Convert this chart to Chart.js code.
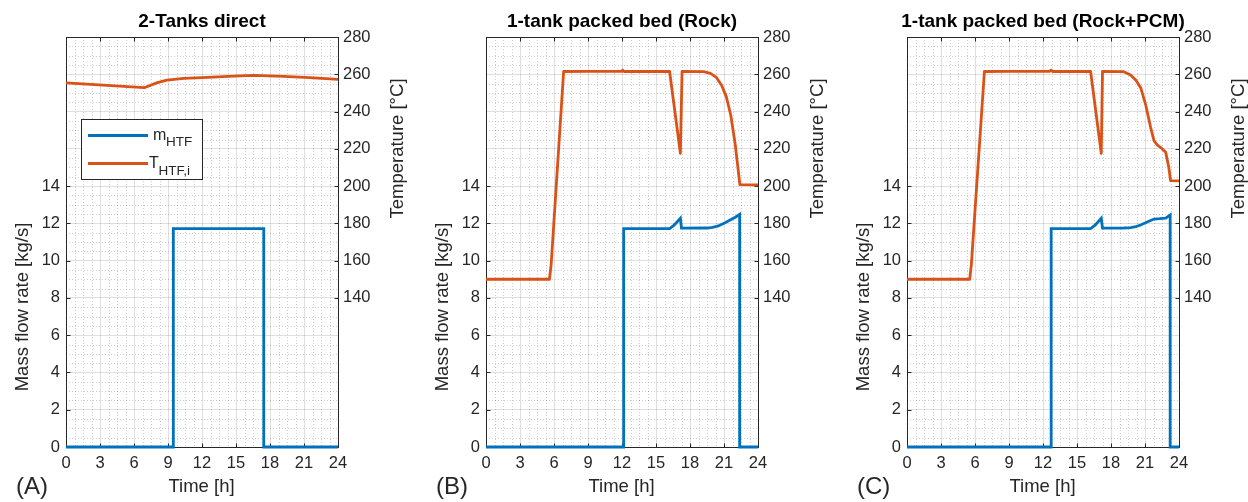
<!DOCTYPE html>
<html>
<head>
<meta charset="utf-8">
<script src="https://cdn.jsdelivr.net/npm/chart.js@4.4.1/dist/chart.umd.min.js"></script>
<style>
  html, body { margin: 0; padding: 0; background: #fff; width: 1248px; height: 502px; overflow: hidden; }
  .panel { position: absolute; top: 0; width: 407px; height: 502px; }
</style>
</head>
<body>
<div class="panel" style="left:0px"><canvas id="chartA" width="407" height="502"></canvas></div>
<div class="panel" style="left:420px"><canvas id="chartB" width="407" height="502"></canvas></div>
<div class="panel" style="left:841px"><canvas id="chartC" width="407" height="502"></canvas></div>
<script>
// ---- Axis ticks ----
const timeTicks = [0, 3, 6, 9, 12, 15, 18, 21, 24];
const flowTicks = [0, 2, 4, 6, 8, 10, 12, 14];
const tempTicks = [140, 160, 180, 200, 220, 240, 260, 280];

// ---- (A) 2-Tanks direct ----
const timeA_flow = [0, 9.47, 9.47, 17.45, 17.45, 24];
const flowA      = [0, 0, 11.72, 11.72, 0, 0];
const timeA_temp = [0, 6.9, 8.0, 8.9, 10.4, 12, 14.8, 16.6, 19.2, 21.5, 24];
const tempA      = [255.4, 252.8, 255.4, 256.9, 257.8, 258.2, 259.0, 259.4, 258.9, 258.2, 257.3];

// ---- (B) 1-tank packed bed (Rock) ----
const timeB_flow = [0, 12.15, 12.15, 16.2, 16.6, 17.15, 17.25, 19.5, 20.0, 20.5, 21.0, 21.5, 22.0, 22.38, 22.38, 24];
const flowB      = [0, 0, 11.72, 11.72, 11.9, 12.27, 11.74, 11.75, 11.78, 11.86, 12.0, 12.17, 12.33, 12.48, 0, 0];
const timeB_temp = [0, 5.6, 5.75, 6.85, 9, 12.0, 12.06, 12.2, 16.2, 17.15, 17.3, 19.2, 19.8, 20.3, 20.8, 21.2, 21.6, 22.0, 22.4, 24];
const tempB      = [150, 150, 158, 261.5, 261.6, 261.6, 262.2, 261.5, 261.5, 217.6, 261.5, 261.4, 260.5, 258.5, 254, 248, 238, 222, 200.8, 200.6];

// ---- (C) 1-tank packed bed (Rock+PCM) ----
const timeC_flow = [0, 12.72, 12.72, 16.2, 16.6, 17.14, 17.25, 19.13, 19.73, 20.2, 20.62, 21.24, 21.8, 22.3, 22.83, 23.22, 23.22, 24];
const flowC      = [0, 0, 11.72, 11.72, 11.9, 12.27, 11.74, 11.75, 11.77, 11.83, 11.91, 12.09, 12.23, 12.25, 12.28, 12.45, 0, 0];
const timeC_temp = [0, 5.53, 5.68, 6.83, 9, 12.6, 12.72, 12.85, 16.2, 17.14, 17.25, 19.13, 19.73, 20.2, 20.62, 21.05, 21.5, 21.8, 22.1, 22.39, 22.83, 23.1, 23.26, 24];
const tempC      = [150, 150, 158, 261.5, 261.6, 261.6, 262.2, 261.5, 261.5, 217.6, 261.5, 261.4, 259.6, 256.8, 252.8, 243.9, 231.4, 224.3, 222, 220.7, 218.1, 210, 202.9, 202.8];

const BLUE = '#0072BD';
const ORANGE = '#D95319';
const INK = '#262626';
const FONT = '"Liberation Sans", Arial, Helvetica, sans-serif';

Chart.defaults.font.family = FONT;
Chart.defaults.color = INK;

const toPoints = (xs, ys) => xs.map((x, i) => ({ x, y: ys[i] }));

// Minor grid, box, inward tick marks, titles and legend
const panelDecor = {
  id: 'panelDecor',
  beforeDatasetsDraw(chart, args, opts) {
    const { ctx, chartArea: a, scales } = chart;
    const sx = scales.x, sl = scales.yFlow, sr = scales.yTemp;
    ctx.save();
    // dotted minor grid
    ctx.strokeStyle = 'rgba(38,38,38,0.22)';
    ctx.lineWidth = 1;
    ctx.setLineDash([1, 2]);
    ctx.beginPath();
    for (let t = 0.75; t < 24; t += 0.75) {
      if (Math.abs(t / 3 - Math.round(t / 3)) < 1e-6) continue;
      const px = Math.round(sx.getPixelForValue(t)) + 0.5;
      ctx.moveTo(px, a.top); ctx.lineTo(px, a.bottom);
    }
    for (let v = 0.5; v < 22; v += 0.5) {
      if (Math.abs(v / 2 - Math.round(v / 2)) < 1e-6) continue;
      const py = Math.round(sl.getPixelForValue(v)) + 0.5;
      ctx.moveTo(a.left, py); ctx.lineTo(a.right, py);
    }
    ctx.stroke();
    ctx.setLineDash([]);
    // axes box
    ctx.strokeStyle = INK;
    ctx.lineWidth = 1;
    const L = Math.round(a.left) + 0.5, R = Math.round(a.right) + 0.5;
    const T = Math.round(a.top) + 0.5, B = Math.round(a.bottom) + 0.5;
    ctx.strokeRect(L, T, R - L, B - T);
    // inward tick marks
    const tl = 4;
    ctx.beginPath();
    timeTicks.forEach(t => {
      const px = Math.round(sx.getPixelForValue(t)) + 0.5;
      ctx.moveTo(px, B); ctx.lineTo(px, B - tl);
      ctx.moveTo(px, T); ctx.lineTo(px, T + tl);
    });
    flowTicks.forEach(v => {
      const py = Math.round(sl.getPixelForValue(v)) + 0.5;
      ctx.moveTo(L, py); ctx.lineTo(L + tl, py);
    });
    tempTicks.forEach(v => {
      const py = Math.round(sr.getPixelForValue(v)) + 0.5;
      ctx.moveTo(R, py); ctx.lineTo(R - tl, py);
    });
    ctx.stroke();
    ctx.restore();
  },
  afterDraw(chart, args, opts) {
    const { ctx, chartArea: a } = chart;
    ctx.save();
    // panel title
    ctx.fillStyle = '#000';
    ctx.font = 'bold 19px ' + FONT;
    ctx.textAlign = 'center';
    ctx.textBaseline = 'middle';
    ctx.fillText(opts.title, (a.left + a.right) / 2, 22);
    // x-axis title
    ctx.fillStyle = INK;
    ctx.font = '18.5px ' + FONT;
    ctx.fillText('Time [h]', 201.5, 487);
    // y-axis titles
    ctx.save();
    ctx.translate(23, 307);
    ctx.rotate(-Math.PI / 2);
    ctx.fillText('Mass flow rate [kg/s]', 0, 0);
    ctx.restore();
    ctx.save();
    ctx.translate(398, 148.5);
    ctx.rotate(-Math.PI / 2);
    ctx.fillText('Temperature [°C]', 0, 0);
    ctx.restore();
    // panel letter
    ctx.font = '24px ' + FONT;
    ctx.textAlign = 'left';
    ctx.fillText(opts.letter, 16, 487);
    // legend
    if (opts.legend) {
      ctx.fillStyle = '#fff';
      ctx.fillRect(81.5, 119.5, 121, 60);
      ctx.strokeStyle = INK;
      ctx.lineWidth = 1;
      ctx.strokeRect(81.5, 119.5, 121, 60);
      ctx.lineWidth = 3;
      ctx.strokeStyle = BLUE;
      ctx.beginPath(); ctx.moveTo(88, 135.5); ctx.lineTo(148, 135.5); ctx.stroke();
      ctx.strokeStyle = ORANGE;
      ctx.beginPath(); ctx.moveTo(88, 163.5); ctx.lineTo(148, 163.5); ctx.stroke();
      ctx.fillStyle = INK;
      ctx.textBaseline = 'alphabetic';
      ctx.font = '16px ' + FONT;
      ctx.fillText('m', 153, 140);
      ctx.fillText('T', 149, 168);
      ctx.font = '13.5px ' + FONT;
      ctx.fillText('HTF', 166, 146);
      ctx.fillText('HTF,i', 158.5, 175);
    }
    ctx.restore();
  }
};

function makePanel(id, tFlow, flow, tTemp, temp, title, letter, legend) {
  return new Chart(document.getElementById(id), {
    type: 'line',
    data: {
      datasets: [
        { label: 'm_HTF', data: toPoints(tFlow, flow), yAxisID: 'yFlow',
          borderColor: BLUE, borderWidth: 2.8, pointRadius: 0, tension: 0, clip: false,
          borderJoinStyle: 'miter', fill: false },
        { label: 'T_HTF,i', data: toPoints(tTemp, temp), yAxisID: 'yTemp',
          borderColor: ORANGE, borderWidth: 2.8, pointRadius: 0, tension: 0, clip: false,
          borderJoinStyle: 'round', fill: false }
      ]
    },
    options: {
      responsive: false,
      animation: false,
      parsing: false,
      layout: { padding: { top: 37, left: 0, right: 0, bottom: 0 } },
      plugins: {
        legend: { display: false },
        tooltip: { enabled: false },
        title: { display: false },
        panelDecor: { title, letter, legend }
      },
      scales: {
        x: {
          type: 'linear', min: 0, max: 24,
          afterBuildTicks: s => { s.ticks = timeTicks.map(v => ({ value: v })); },
          ticks: { font: { size: 16.5 }, color: INK, padding: 7, maxRotation: 0 },
          grid: { color: 'rgba(38,38,38,0.15)', lineWidth: 1, drawTicks: false },
          border: { display: false },
          afterFit: s => { s.height = 55; }
        },
        yFlow: {
          type: 'linear', position: 'left', min: 0, max: 22,
          ticks: { stepSize: 2, font: { size: 16.5 }, color: INK, padding: 6,
                   callback: v => (flowTicks.includes(v) ? String(v) : '') },
          grid: { color: 'rgba(38,38,38,0.15)', lineWidth: 1, drawTicks: false },
          border: { display: false },
          afterFit: s => { s.width = 66; }
        },
        yTemp: {
          type: 'linear', position: 'right', min: 60, max: 280,
          ticks: { stepSize: 20, font: { size: 16.5 }, color: INK, padding: 5,
                   callback: v => (tempTicks.includes(v) ? String(v) : '') },
          grid: { display: false, drawTicks: false },
          border: { display: false },
          afterFit: s => { s.width = 407 - 338; }
        }
      }
    },
    plugins: [panelDecor]
  });
}

makePanel('chartA', timeA_flow, flowA, timeA_temp, tempA, '2-Tanks direct', '(A)', true);
makePanel('chartB', timeB_flow, flowB, timeB_temp, tempB, '1-tank packed bed (Rock)', '(B)', false);
makePanel('chartC', timeC_flow, flowC, timeC_temp, tempC, '1-tank packed bed (Rock+PCM)', '(C)', false);
</script>
</body>
</html>
